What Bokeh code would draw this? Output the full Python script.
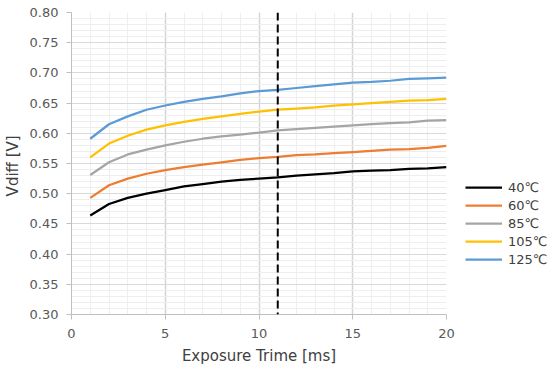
from bokeh.plotting import figure
from bokeh.models import Legend, LegendItem, NumeralTickFormatter, FixedTicker, Span
from bokeh.embed import file_html
from bokeh.resources import INLINE

exposure_ms = list(range(1, 21))
v_40 = [0.464, 0.483, 0.493, 0.500, 0.506, 0.512, 0.516, 0.520, 0.523, 0.525,
        0.527, 0.530, 0.532, 0.534, 0.537, 0.538, 0.539, 0.541, 0.542, 0.544]
v_60 = [0.493, 0.514, 0.525, 0.533, 0.539, 0.544, 0.548, 0.552, 0.556, 0.559,
        0.561, 0.564, 0.565, 0.567, 0.569, 0.571, 0.573, 0.574, 0.576, 0.579]
v_85 = [0.531, 0.552, 0.565, 0.573, 0.580, 0.586, 0.591, 0.595, 0.598, 0.601,
        0.605, 0.607, 0.609, 0.611, 0.613, 0.615, 0.617, 0.618, 0.621, 0.622]
v_105 = [0.560, 0.583, 0.596, 0.606, 0.613, 0.619, 0.624, 0.628, 0.632, 0.636,
         0.639, 0.641, 0.643, 0.646, 0.648, 0.650, 0.652, 0.654, 0.655, 0.657]
v_125 = [0.591, 0.615, 0.628, 0.639, 0.646, 0.652, 0.657, 0.661, 0.666, 0.670,
         0.672, 0.675, 0.678, 0.681, 0.684, 0.685, 0.687, 0.690, 0.691, 0.692]
series_labels = ["40℃", "60℃", "85℃", "105℃", "125℃"]
series_colors = ["#000000", "#ED7D31", "#A5A5A5", "#FFC000", "#5B9BD5"]
marker_x = 11
x_ticks = [0, 5, 10, 15, 20]
y_ticks = [0.30, 0.35, 0.40, 0.45, 0.50, 0.55, 0.60, 0.65, 0.70, 0.75, 0.80]

FONT = "DejaVu Sans"

p = figure(x_range=(0, 20), y_range=(0.30, 0.80),
           output_backend="svg", toolbar_location=None,
           min_border_left=71, min_border_top=12, min_border_bottom=52, min_border_right=10)
p.frame_width = 375
p.frame_height = 302
p.outline_line_color = None
p.background_fill_color = "white"

p.xaxis.ticker = FixedTicker(ticks=x_ticks, minor_ticks=list(range(0, 21)))
p.yaxis.ticker = FixedTicker(ticks=y_ticks, minor_ticks=[round(0.30 + 0.01 * i, 2) for i in range(51)])
p.yaxis.formatter = NumeralTickFormatter(format="0.00")

p.xgrid.grid_line_color = "#d4d4d4"
p.xgrid.grid_line_width = 1.5
p.xgrid.minor_grid_line_color = "#eeeeee"
p.ygrid.grid_line_color = "#d9d9d9"
p.ygrid.minor_grid_line_color = "#eeeeee"

for ax in (p.xaxis, p.yaxis):
    ax.axis_line_color = "#bfbfbf"
    ax.major_tick_line_color = "#bfbfbf"
    ax.minor_tick_line_color = None
    ax.major_tick_in = 0
    ax.major_tick_out = 5
    ax.major_label_text_font = FONT
    ax.major_label_text_font_size = "13px"
    ax.major_label_text_color = "#595959"
    ax.axis_label_text_font = FONT
    ax.axis_label_text_font_size = "15px"
    ax.axis_label_text_color = "#404040"
    ax.axis_label_text_font_style = "normal"

p.xaxis.axis_label = "Exposure Trime [ms]"
p.yaxis.axis_label = "Vdiff  [V]"
p.xaxis.major_label_standoff = 9
p.xaxis.axis_label_standoff = 6
p.yaxis.major_label_standoff = 8
p.yaxis.axis_label_standoff = 5

items = []
for vals, lab, col in zip([v_40, v_60, v_85, v_105, v_125], series_labels, series_colors):
    r = p.line(exposure_ms, vals, line_color=col, line_width=2.25)
    items.append(LegendItem(label=lab, renderers=[r]))

p.add_layout(Span(location=marker_x, dimension="height", line_color="black",
                  line_width=2, line_dash="8 4"))

legend = Legend(items=items, location=(19, 46), orientation="vertical",
                label_text_font=FONT, label_text_font_size="13px", label_text_color="#404040",
                glyph_width=37, glyph_height=18, label_height=18, spacing=0,
                padding=0, margin=0, border_line_color=None, background_fill_alpha=0,
                label_standoff=6)
p.add_layout(legend, "right")

open("out.html", "w").write(file_html(p, INLINE))
